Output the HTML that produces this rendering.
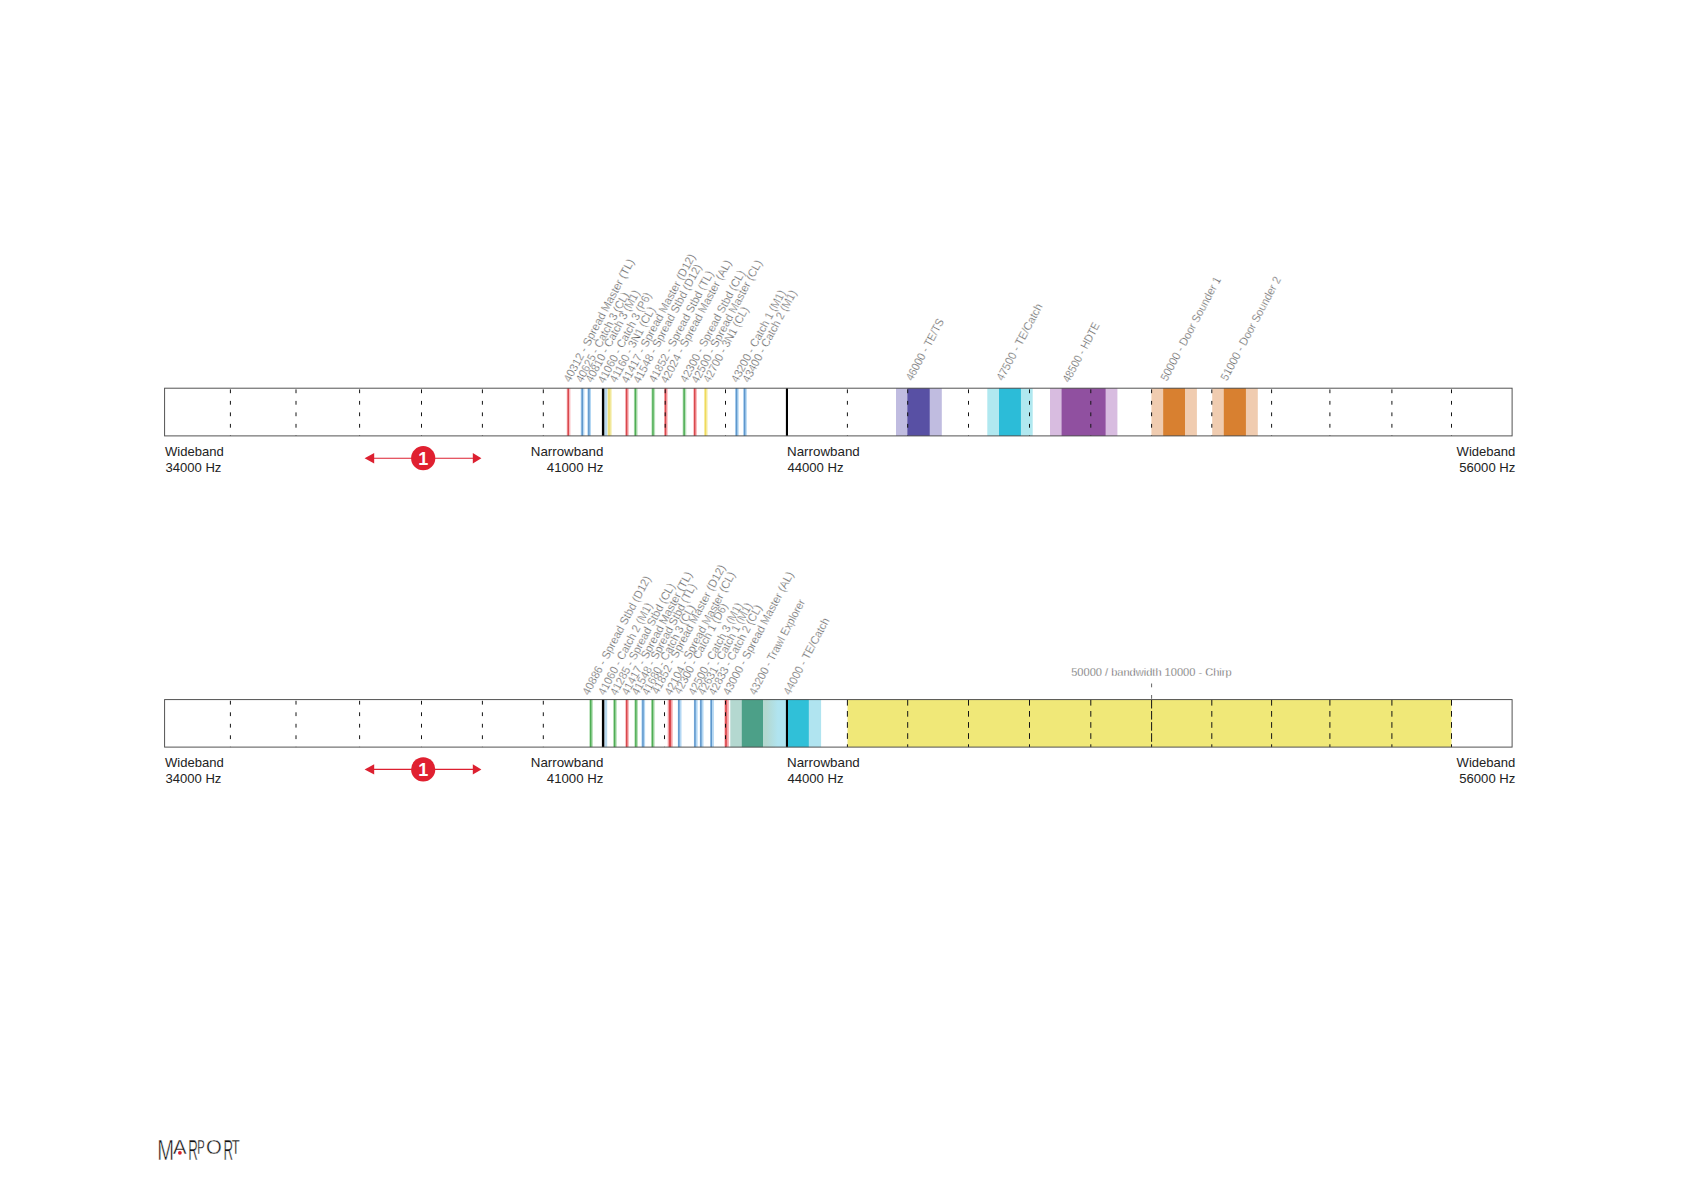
<!DOCTYPE html><html><head><meta charset="utf-8"><title>Frequency plan</title>
<style>html,body{margin:0;padding:0;background:#fff}svg{display:block}text{font-family:"Liberation Sans",sans-serif}</style></head><body>
<svg width="1683" height="1191" viewBox="0 0 1683 1191">
<rect width="1683" height="1191" fill="#fff"/>
<rect x="566.7" y="388.2" width="3.7" height="47.7" fill="#f9b7bb"/>
<rect x="567.5" y="388.2" width="1.5" height="47.7" fill="#d9484d"/>
<rect x="580.7" y="388.2" width="3.7" height="47.7" fill="#b4d7f3"/>
<rect x="581.5" y="388.2" width="1.5" height="47.7" fill="#5f97cc"/>
<rect x="587.3" y="388.2" width="3.7" height="47.7" fill="#b4d7f3"/>
<rect x="588.1" y="388.2" width="1.5" height="47.7" fill="#5f97cc"/>
<rect x="604.4" y="388.2" width="3.1" height="47.7" fill="#b9d9ee"/>
<rect x="607.6" y="388.2" width="4.1" height="47.7" fill="#f6efb0"/>
<rect x="608.0" y="388.2" width="2.4" height="47.7" fill="#ecdd7c"/>
<rect x="625.1" y="388.2" width="3.7" height="47.7" fill="#f9b7bb"/>
<rect x="625.9" y="388.2" width="1.5" height="47.7" fill="#d9484d"/>
<rect x="633.9" y="388.2" width="3.7" height="47.7" fill="#b9e2ba"/>
<rect x="634.7" y="388.2" width="1.5" height="47.7" fill="#4fad55"/>
<rect x="651.4" y="388.2" width="3.7" height="47.7" fill="#b9e2ba"/>
<rect x="652.2" y="388.2" width="1.5" height="47.7" fill="#4fad55"/>
<rect x="664.0" y="388.2" width="3.7" height="47.7" fill="#f9b7bb"/>
<rect x="664.8" y="388.2" width="1.5" height="47.7" fill="#d9484d"/>
<rect x="682.6" y="388.2" width="3.7" height="47.7" fill="#b9e2ba"/>
<rect x="683.4" y="388.2" width="1.5" height="47.7" fill="#4fad55"/>
<rect x="693.2" y="388.2" width="3.7" height="47.7" fill="#f9b7bb"/>
<rect x="694.0" y="388.2" width="1.5" height="47.7" fill="#d9484d"/>
<rect x="704.0" y="388.2" width="3.7" height="47.7" fill="#f8f1b5"/>
<rect x="704.8" y="388.2" width="1.5" height="47.7" fill="#efd95c"/>
<rect x="735.0" y="388.2" width="3.7" height="47.7" fill="#b4d7f3"/>
<rect x="735.8" y="388.2" width="1.5" height="47.7" fill="#5f97cc"/>
<rect x="743.1" y="388.2" width="3.7" height="47.7" fill="#b4d7f3"/>
<rect x="743.9" y="388.2" width="1.5" height="47.7" fill="#5f97cc"/>
<rect x="896.0" y="388.2" width="45.8" height="47.7" fill="#c0bce0"/>
<rect x="907.4" y="388.2" width="22.3" height="47.7" fill="#5850a4"/>
<rect x="987.3" y="388.2" width="45.4" height="47.7" fill="#b0e8f0"/>
<rect x="999.0" y="388.2" width="21.9" height="47.7" fill="#2cbcd8"/>
<rect x="1050.0" y="388.2" width="67.4" height="47.7" fill="#d8bce0"/>
<rect x="1061.6" y="388.2" width="44.0" height="47.7" fill="#9050a0"/>
<rect x="1151.4" y="388.2" width="45.5" height="47.7" fill="#f0ccb0"/>
<rect x="1163.2" y="388.2" width="21.8" height="47.7" fill="#d88030"/>
<rect x="1212.2" y="388.2" width="45.6" height="47.7" fill="#f0ccb0"/>
<rect x="1223.8" y="388.2" width="22.1" height="47.7" fill="#d88030"/>
<rect x="601.9" y="388.2" width="2.4" height="47.7" fill="#000"/>
<rect x="785.9" y="388.2" width="2.1" height="47.7" fill="#000"/>
<line x1="230.4" y1="388.2" x2="230.4" y2="435.9" stroke="#141414" stroke-width="1.0" stroke-dasharray="3.8 7.7" stroke-dashoffset="-1.2"/>
<line x1="296.0" y1="388.2" x2="296.0" y2="435.9" stroke="#141414" stroke-width="1.0" stroke-dasharray="3.8 7.7" stroke-dashoffset="-1.2"/>
<line x1="359.6" y1="388.2" x2="359.6" y2="435.9" stroke="#141414" stroke-width="1.0" stroke-dasharray="3.8 7.7" stroke-dashoffset="-1.2"/>
<line x1="421.5" y1="388.2" x2="421.5" y2="435.9" stroke="#141414" stroke-width="1.0" stroke-dasharray="3.8 7.7" stroke-dashoffset="-1.2"/>
<line x1="482.4" y1="388.2" x2="482.4" y2="435.9" stroke="#141414" stroke-width="1.0" stroke-dasharray="3.8 7.7" stroke-dashoffset="-1.2"/>
<line x1="543.3" y1="388.2" x2="543.3" y2="435.9" stroke="#141414" stroke-width="1.0" stroke-dasharray="3.8 7.7" stroke-dashoffset="-1.2"/>
<line x1="665.2" y1="388.2" x2="665.2" y2="435.9" stroke="#141414" stroke-width="1.0" stroke-dasharray="3.8 7.7" stroke-dashoffset="-1.2"/>
<line x1="725.5" y1="388.2" x2="725.5" y2="435.9" stroke="#141414" stroke-width="1.0" stroke-dasharray="3.8 7.7" stroke-dashoffset="-1.2"/>
<line x1="847.4" y1="388.2" x2="847.4" y2="435.9" stroke="#141414" stroke-width="1.0" stroke-dasharray="3.8 7.7" stroke-dashoffset="-1.2"/>
<line x1="907.7" y1="388.2" x2="907.7" y2="435.9" stroke="#141414" stroke-width="1.0" stroke-dasharray="3.8 7.7" stroke-dashoffset="-1.2"/>
<line x1="968.5" y1="388.2" x2="968.5" y2="435.9" stroke="#141414" stroke-width="1.0" stroke-dasharray="3.8 7.7" stroke-dashoffset="-1.2"/>
<line x1="1029.5" y1="388.2" x2="1029.5" y2="435.9" stroke="#141414" stroke-width="1.0" stroke-dasharray="3.8 7.7" stroke-dashoffset="-1.2"/>
<line x1="1090.8" y1="388.2" x2="1090.8" y2="435.9" stroke="#141414" stroke-width="1.0" stroke-dasharray="3.8 7.7" stroke-dashoffset="-1.2"/>
<line x1="1151.6" y1="388.2" x2="1151.6" y2="435.9" stroke="#141414" stroke-width="1.0" stroke-dasharray="3.8 7.7" stroke-dashoffset="-1.2"/>
<line x1="1211.8" y1="388.2" x2="1211.8" y2="435.9" stroke="#141414" stroke-width="1.0" stroke-dasharray="3.8 7.7" stroke-dashoffset="-1.2"/>
<line x1="1271.6" y1="388.2" x2="1271.6" y2="435.9" stroke="#141414" stroke-width="1.0" stroke-dasharray="3.8 7.7" stroke-dashoffset="-1.2"/>
<line x1="1329.9" y1="388.2" x2="1329.9" y2="435.9" stroke="#141414" stroke-width="1.0" stroke-dasharray="3.8 7.7" stroke-dashoffset="-1.2"/>
<line x1="1391.9" y1="388.2" x2="1391.9" y2="435.9" stroke="#141414" stroke-width="1.0" stroke-dasharray="3.8 7.7" stroke-dashoffset="-1.2"/>
<line x1="1451.5" y1="388.2" x2="1451.5" y2="435.9" stroke="#141414" stroke-width="1.0" stroke-dasharray="3.8 7.7" stroke-dashoffset="-1.2"/>
<rect x="164.6" y="388.2" width="1347.5" height="47.7" fill="none" stroke="#4a4a4a" stroke-width="0.95"/>
<text x="165.0" y="455.6" font-size="13" fill="#222" text-anchor="start" textLength="58.8" lengthAdjust="spacingAndGlyphs">Wideband</text>
<text x="165.4" y="472.1" font-size="13" fill="#222" text-anchor="start" textLength="56" lengthAdjust="spacingAndGlyphs">34000 Hz</text>
<text x="603.4" y="455.6" font-size="13" fill="#222" text-anchor="end" textLength="72.6" lengthAdjust="spacingAndGlyphs">Narrowband</text>
<text x="603.4" y="472.1" font-size="13" fill="#222" text-anchor="end" textLength="56.6" lengthAdjust="spacingAndGlyphs">41000 Hz</text>
<text x="787.0" y="455.6" font-size="13" fill="#222" text-anchor="start" textLength="72.8" lengthAdjust="spacingAndGlyphs">Narrowband</text>
<text x="787.4" y="472.1" font-size="13" fill="#222" text-anchor="start" textLength="56.2" lengthAdjust="spacingAndGlyphs">44000 Hz</text>
<text x="1515.4" y="455.6" font-size="13" fill="#222" text-anchor="end" textLength="58.8" lengthAdjust="spacingAndGlyphs">Wideband</text>
<text x="1515.4" y="472.1" font-size="13" fill="#222" text-anchor="end" textLength="56.2" lengthAdjust="spacingAndGlyphs">56000 Hz</text>
<line x1="372" y1="458.2" x2="475" y2="458.2" stroke="#dc2030" stroke-width="1.1"/>
<polygon points="364.6,458.2 374.2,453.0 374.2,463.4" fill="#dc2030"/>
<polygon points="481.4,458.2 472.8,453.0 472.8,463.4" fill="#dc2030"/>
<circle cx="423.2" cy="458.2" r="12.1" fill="#e02030"/>
<text x="423.2" y="464.6" font-size="18" font-weight="bold" fill="#fff" text-anchor="middle">1</text>
<rect x="589.2" y="699.6" width="3.7" height="47.5" fill="#b9e2ba"/>
<rect x="590.0" y="699.6" width="1.5" height="47.5" fill="#4fad55"/>
<rect x="604.3" y="699.6" width="2.9" height="47.5" fill="#b9d9ee"/>
<rect x="613.1" y="699.6" width="3.7" height="47.5" fill="#b9e2ba"/>
<rect x="613.9" y="699.6" width="1.5" height="47.5" fill="#4fad55"/>
<rect x="625.2" y="699.6" width="3.7" height="47.5" fill="#f9b7bb"/>
<rect x="626.0" y="699.6" width="1.5" height="47.5" fill="#d9484d"/>
<rect x="634.3" y="699.6" width="3.7" height="47.5" fill="#b9e2ba"/>
<rect x="635.1" y="699.6" width="1.5" height="47.5" fill="#4fad55"/>
<rect x="641.4" y="699.6" width="3.7" height="47.5" fill="#b4d7f3"/>
<rect x="642.2" y="699.6" width="1.5" height="47.5" fill="#5f97cc"/>
<rect x="651.0" y="699.6" width="3.7" height="47.5" fill="#b9e2ba"/>
<rect x="651.8" y="699.6" width="1.5" height="47.5" fill="#4fad55"/>
<rect x="667.6" y="699.6" width="5.2" height="47.5" fill="#f9b7bb"/>
<rect x="668.8" y="699.6" width="2.4" height="47.5" fill="#d9484d"/>
<rect x="677.8" y="699.6" width="3.7" height="47.5" fill="#b4d7f3"/>
<rect x="678.1" y="699.6" width="1.5" height="47.5" fill="#5f97cc"/>
<rect x="693.9" y="699.6" width="3.7" height="47.5" fill="#b4d7f3"/>
<rect x="694.2" y="699.6" width="1.5" height="47.5" fill="#5f97cc"/>
<rect x="699.8" y="699.6" width="3.7" height="47.5" fill="#b4d7f3"/>
<rect x="700.1" y="699.6" width="1.5" height="47.5" fill="#5f97cc"/>
<rect x="710.2" y="699.6" width="3.7" height="47.5" fill="#b4d7f3"/>
<rect x="710.5" y="699.6" width="1.5" height="47.5" fill="#5f97cc"/>
<rect x="724.3" y="699.6" width="4.7" height="47.5" fill="#f9b7bb"/>
<rect x="725.0" y="699.6" width="2.2" height="47.5" fill="#e0575c"/>
<rect x="730.3" y="699.6" width="44.7" height="47.5" fill="#b4d8d0"/>
<rect x="741.8" y="699.6" width="21.2" height="47.5" fill="#4ca088"/>
<defs><linearGradient id="g1" x1="0" x2="1" y1="0" y2="0"><stop offset="0" stop-color="#b4d8d0"/><stop offset="1" stop-color="#b0e4f0"/></linearGradient></defs>
<rect x="766.0" y="699.6" width="12.0" height="47.5" fill="url(#g1)"/>
<rect x="778.0" y="699.6" width="43.1" height="47.5" fill="#b0e4f0"/>
<rect x="787.5" y="699.6" width="21.3" height="47.5" fill="#30c0d8"/>
<rect x="847.5" y="699.6" width="604.0" height="47.5" fill="#f0e878"/>
<rect x="601.9" y="699.6" width="2.4" height="47.5" fill="#000"/>
<rect x="785.9" y="699.6" width="2.1" height="47.5" fill="#000"/>
<line x1="230.4" y1="699.6" x2="230.4" y2="747.1" stroke="#141414" stroke-width="1.0" stroke-dasharray="3.8 7.7" stroke-dashoffset="-1.2"/>
<line x1="296.0" y1="699.6" x2="296.0" y2="747.1" stroke="#141414" stroke-width="1.0" stroke-dasharray="3.8 7.7" stroke-dashoffset="-1.2"/>
<line x1="359.6" y1="699.6" x2="359.6" y2="747.1" stroke="#141414" stroke-width="1.0" stroke-dasharray="3.8 7.7" stroke-dashoffset="-1.2"/>
<line x1="421.5" y1="699.6" x2="421.5" y2="747.1" stroke="#141414" stroke-width="1.0" stroke-dasharray="3.8 7.7" stroke-dashoffset="-1.2"/>
<line x1="482.4" y1="699.6" x2="482.4" y2="747.1" stroke="#141414" stroke-width="1.0" stroke-dasharray="3.8 7.7" stroke-dashoffset="-1.2"/>
<line x1="543.3" y1="699.6" x2="543.3" y2="747.1" stroke="#141414" stroke-width="1.0" stroke-dasharray="3.8 7.7" stroke-dashoffset="-1.2"/>
<line x1="664.5" y1="699.6" x2="664.5" y2="747.1" stroke="#141414" stroke-width="1.0" stroke-dasharray="3.8 7.7" stroke-dashoffset="-1.2"/>
<line x1="725.5" y1="699.6" x2="725.5" y2="747.1" stroke="#141414" stroke-width="1.0" stroke-dasharray="3.8 7.7" stroke-dashoffset="-1.2"/>
<line x1="847.4" y1="699.6" x2="847.4" y2="747.1" stroke="#141414" stroke-width="1.0" stroke-dasharray="5.7 5.4" stroke-dashoffset="-0.3"/>
<line x1="907.7" y1="699.6" x2="907.7" y2="747.1" stroke="#141414" stroke-width="1.0" stroke-dasharray="5.7 5.4" stroke-dashoffset="-0.3"/>
<line x1="968.5" y1="699.6" x2="968.5" y2="747.1" stroke="#141414" stroke-width="1.0" stroke-dasharray="5.7 5.4" stroke-dashoffset="-0.3"/>
<line x1="1029.5" y1="699.6" x2="1029.5" y2="747.1" stroke="#141414" stroke-width="1.0" stroke-dasharray="5.7 5.4" stroke-dashoffset="-0.3"/>
<line x1="1090.8" y1="699.6" x2="1090.8" y2="747.1" stroke="#141414" stroke-width="1.0" stroke-dasharray="5.7 5.4" stroke-dashoffset="-0.3"/>
<line x1="1151.6" y1="699.6" x2="1151.6" y2="747.1" stroke="#141414" stroke-width="1.0" stroke-dasharray="8.6 2.5" stroke-dashoffset="-0.3"/>
<line x1="1211.8" y1="699.6" x2="1211.8" y2="747.1" stroke="#141414" stroke-width="1.0" stroke-dasharray="5.7 5.4" stroke-dashoffset="-0.3"/>
<line x1="1271.6" y1="699.6" x2="1271.6" y2="747.1" stroke="#141414" stroke-width="1.0" stroke-dasharray="5.7 5.4" stroke-dashoffset="-0.3"/>
<line x1="1329.9" y1="699.6" x2="1329.9" y2="747.1" stroke="#141414" stroke-width="1.0" stroke-dasharray="5.7 5.4" stroke-dashoffset="-0.3"/>
<line x1="1391.9" y1="699.6" x2="1391.9" y2="747.1" stroke="#141414" stroke-width="1.0" stroke-dasharray="5.7 5.4" stroke-dashoffset="-0.3"/>
<line x1="1451.5" y1="699.6" x2="1451.5" y2="747.1" stroke="#141414" stroke-width="1.0" stroke-dasharray="5.7 5.4" stroke-dashoffset="-0.3"/>
<rect x="164.6" y="699.6" width="1347.5" height="47.5" fill="none" stroke="#4a4a4a" stroke-width="0.95"/>
<text x="165.0" y="766.8" font-size="13" fill="#222" text-anchor="start" textLength="58.8" lengthAdjust="spacingAndGlyphs">Wideband</text>
<text x="165.4" y="783.3" font-size="13" fill="#222" text-anchor="start" textLength="56" lengthAdjust="spacingAndGlyphs">34000 Hz</text>
<text x="603.4" y="766.8" font-size="13" fill="#222" text-anchor="end" textLength="72.6" lengthAdjust="spacingAndGlyphs">Narrowband</text>
<text x="603.4" y="783.3" font-size="13" fill="#222" text-anchor="end" textLength="56.6" lengthAdjust="spacingAndGlyphs">41000 Hz</text>
<text x="787.0" y="766.8" font-size="13" fill="#222" text-anchor="start" textLength="72.8" lengthAdjust="spacingAndGlyphs">Narrowband</text>
<text x="787.4" y="783.3" font-size="13" fill="#222" text-anchor="start" textLength="56.2" lengthAdjust="spacingAndGlyphs">44000 Hz</text>
<text x="1515.4" y="766.8" font-size="13" fill="#222" text-anchor="end" textLength="58.8" lengthAdjust="spacingAndGlyphs">Wideband</text>
<text x="1515.4" y="783.3" font-size="13" fill="#222" text-anchor="end" textLength="56.2" lengthAdjust="spacingAndGlyphs">56000 Hz</text>
<line x1="372" y1="769.4" x2="475" y2="769.4" stroke="#dc2030" stroke-width="1.1"/>
<polygon points="364.6,769.4 374.2,764.2 374.2,774.6" fill="#dc2030"/>
<polygon points="481.4,769.4 472.8,764.2 472.8,774.6" fill="#dc2030"/>
<circle cx="423.2" cy="769.4" r="12.1" fill="#e02030"/>
<text x="423.2" y="775.8" font-size="18" font-weight="bold" fill="#fff" text-anchor="middle">1</text>
<text transform="translate(569.9,383.1) rotate(-62)" font-size="11.5" fill="#424242" stroke="#fff" stroke-width="0.34" textLength="137.8" lengthAdjust="spacingAndGlyphs" style='font-family:"Liberation Sans",sans-serif'>40312 - Spread Master (TL)</text>
<text transform="translate(582.2,383.2) rotate(-62)" font-size="11.5" fill="#424242" stroke="#fff" stroke-width="0.34" textLength="100.2" lengthAdjust="spacingAndGlyphs" style='font-family:"Liberation Sans",sans-serif'>40625 - Catch 3 (CL)</text>
<text transform="translate(591.9,383.2) rotate(-62)" font-size="11.5" fill="#424242" stroke="#fff" stroke-width="0.34" textLength="102.6" lengthAdjust="spacingAndGlyphs" style='font-family:"Liberation Sans",sans-serif'>40810 - Catch 3 (M1)</text>
<text transform="translate(604.3,384.1) rotate(-62)" font-size="11.5" fill="#424242" stroke="#fff" stroke-width="0.34" textLength="101.0" lengthAdjust="spacingAndGlyphs" style='font-family:"Liberation Sans",sans-serif'>41060 - Catch 3 (P6)</text>
<text transform="translate(616.1,383.2) rotate(-62)" font-size="11.5" fill="#424242" stroke="#fff" stroke-width="0.34" textLength="83.7" lengthAdjust="spacingAndGlyphs" style='font-family:"Liberation Sans",sans-serif'>41160 - 3N1 (CL)</text>
<text transform="translate(627.8,384.1) rotate(-62)" font-size="11.5" fill="#424242" stroke="#fff" stroke-width="0.34" textLength="144.6" lengthAdjust="spacingAndGlyphs" style='font-family:"Liberation Sans",sans-serif'>41417 - Spread Master (D12)</text>
<text transform="translate(639.6,384.1) rotate(-62)" font-size="11.5" fill="#424242" stroke="#fff" stroke-width="0.34" textLength="133.0" lengthAdjust="spacingAndGlyphs" style='font-family:"Liberation Sans",sans-serif'>41548 - Spread Stbd (D12)</text>
<text transform="translate(655.3,383.2) rotate(-62)" font-size="11.5" fill="#424242" stroke="#fff" stroke-width="0.34" textLength="124.5" lengthAdjust="spacingAndGlyphs" style='font-family:"Liberation Sans",sans-serif'>41852 - Spread Stbd (TL)</text>
<text transform="translate(667.1,384.1) rotate(-62)" font-size="11.5" fill="#424242" stroke="#fff" stroke-width="0.34" textLength="137.8" lengthAdjust="spacingAndGlyphs" style='font-family:"Liberation Sans",sans-serif'>42024 - Spread Master (AL)</text>
<text transform="translate(686.6,383.2) rotate(-62)" font-size="11.5" fill="#424242" stroke="#fff" stroke-width="0.34" textLength="125.0" lengthAdjust="spacingAndGlyphs" style='font-family:"Liberation Sans",sans-serif'>42300 - Spread Stbd (CL)</text>
<text transform="translate(697.8,384.1) rotate(-62)" font-size="11.5" fill="#424242" stroke="#fff" stroke-width="0.34" textLength="137.8" lengthAdjust="spacingAndGlyphs" style='font-family:"Liberation Sans",sans-serif'>42500 - Spread Master (CL)</text>
<text transform="translate(709.6,383.2) rotate(-62)" font-size="11.5" fill="#424242" stroke="#fff" stroke-width="0.34" textLength="83.7" lengthAdjust="spacingAndGlyphs" style='font-family:"Liberation Sans",sans-serif'>42700 - 3N1 (CL)</text>
<text transform="translate(737.6,383.2) rotate(-62)" font-size="11.5" fill="#424242" stroke="#fff" stroke-width="0.34" textLength="102.6" lengthAdjust="spacingAndGlyphs" style='font-family:"Liberation Sans",sans-serif'>43200 - Catch 1 (M1)</text>
<text transform="translate(748.8,383.2) rotate(-62)" font-size="11.5" fill="#424242" stroke="#fff" stroke-width="0.34" textLength="102.6" lengthAdjust="spacingAndGlyphs" style='font-family:"Liberation Sans",sans-serif'>43400 - Catch 2 (M1)</text>
<text transform="translate(912.3,381.6) rotate(-62)" font-size="11.5" fill="#424242" stroke="#fff" stroke-width="0.34" textLength="68.4" lengthAdjust="spacingAndGlyphs" style='font-family:"Liberation Sans",sans-serif'>46000 - TE/TS</text>
<text transform="translate(1002.8,381.6) rotate(-62)" font-size="11.5" fill="#424242" stroke="#fff" stroke-width="0.34" textLength="85.4" lengthAdjust="spacingAndGlyphs" style='font-family:"Liberation Sans",sans-serif'>47500 - TE/Catch</text>
<text transform="translate(1069.1,383.3) rotate(-62)" font-size="11.5" fill="#424242" stroke="#fff" stroke-width="0.34" textLength="66.0" lengthAdjust="spacingAndGlyphs" style='font-family:"Liberation Sans",sans-serif'>48500 - HDTE</text>
<text transform="translate(1166.9,381.8) rotate(-62)" font-size="11.5" fill="#424242" stroke="#fff" stroke-width="0.34" textLength="116.0" lengthAdjust="spacingAndGlyphs" style='font-family:"Liberation Sans",sans-serif'>50000 - Door Sounder 1</text>
<text transform="translate(1227.0,381.4) rotate(-62)" font-size="11.5" fill="#424242" stroke="#fff" stroke-width="0.34" textLength="115.6" lengthAdjust="spacingAndGlyphs" style='font-family:"Liberation Sans",sans-serif'>51000 - Door Sounder 2</text>
<text transform="translate(588.8,695.9) rotate(-62)" font-size="11.5" fill="#424242" stroke="#fff" stroke-width="0.34" textLength="133.0" lengthAdjust="spacingAndGlyphs" style='font-family:"Liberation Sans",sans-serif'>40886 - Spread Stbd (D12)</text>
<text transform="translate(604.6,695.9) rotate(-62)" font-size="11.5" fill="#424242" stroke="#fff" stroke-width="0.34" textLength="102.6" lengthAdjust="spacingAndGlyphs" style='font-family:"Liberation Sans",sans-serif'>41060 - Catch 2 (M1)</text>
<text transform="translate(616.5,696.2) rotate(-62)" font-size="11.5" fill="#424242" stroke="#fff" stroke-width="0.34" textLength="125.0" lengthAdjust="spacingAndGlyphs" style='font-family:"Liberation Sans",sans-serif'>41285 - Spread Stbd (CL)</text>
<text transform="translate(627.9,695.9) rotate(-62)" font-size="11.5" fill="#424242" stroke="#fff" stroke-width="0.34" textLength="137.8" lengthAdjust="spacingAndGlyphs" style='font-family:"Liberation Sans",sans-serif'>41417 - Spread Master (TL)</text>
<text transform="translate(638.1,695.9) rotate(-62)" font-size="11.5" fill="#424242" stroke="#fff" stroke-width="0.34" textLength="124.5" lengthAdjust="spacingAndGlyphs" style='font-family:"Liberation Sans",sans-serif'>41548 - Spread Stbd (TL)</text>
<text transform="translate(648.3,695.9) rotate(-62)" font-size="11.5" fill="#424242" stroke="#fff" stroke-width="0.34" textLength="100.2" lengthAdjust="spacingAndGlyphs" style='font-family:"Liberation Sans",sans-serif'>41680 - Catch 3 (CL)</text>
<text transform="translate(657.9,694.9) rotate(-62)" font-size="11.5" fill="#424242" stroke="#fff" stroke-width="0.34" textLength="144.6" lengthAdjust="spacingAndGlyphs" style='font-family:"Liberation Sans",sans-serif'>41852 - Spread Master (D12)</text>
<text transform="translate(670.9,695.9) rotate(-62)" font-size="11.5" fill="#424242" stroke="#fff" stroke-width="0.34" textLength="137.8" lengthAdjust="spacingAndGlyphs" style='font-family:"Liberation Sans",sans-serif'>42104 - Spread Master (CL)</text>
<text transform="translate(680.5,694.9) rotate(-62)" font-size="11.5" fill="#424242" stroke="#fff" stroke-width="0.34" textLength="101.0" lengthAdjust="spacingAndGlyphs" style='font-family:"Liberation Sans",sans-serif'>42300 - Catch 1 (D6)</text>
<text transform="translate(694.7,695.9) rotate(-62)" font-size="11.5" fill="#424242" stroke="#fff" stroke-width="0.34" textLength="102.6" lengthAdjust="spacingAndGlyphs" style='font-family:"Liberation Sans",sans-serif'>42500 - Catch 3 (M1)</text>
<text transform="translate(704.3,695.9) rotate(-62)" font-size="11.5" fill="#424242" stroke="#fff" stroke-width="0.34" textLength="102.6" lengthAdjust="spacingAndGlyphs" style='font-family:"Liberation Sans",sans-serif'>42631 - Catch 1 (M1)</text>
<text transform="translate(715.1,695.9) rotate(-62)" font-size="11.5" fill="#424242" stroke="#fff" stroke-width="0.34" textLength="100.2" lengthAdjust="spacingAndGlyphs" style='font-family:"Liberation Sans",sans-serif'>42833 - Catch 2 (CL)</text>
<text transform="translate(729.3,695.9) rotate(-62)" font-size="11.5" fill="#424242" stroke="#fff" stroke-width="0.34" textLength="137.8" lengthAdjust="spacingAndGlyphs" style='font-family:"Liberation Sans",sans-serif'>43000 - Spread Master (AL)</text>
<text transform="translate(755.4,695.7) rotate(-62)" font-size="11.5" fill="#424242" stroke="#fff" stroke-width="0.34" textLength="106.3" lengthAdjust="spacingAndGlyphs" style='font-family:"Liberation Sans",sans-serif'>43200 - Trawl Explorer</text>
<text transform="translate(789.7,695.7) rotate(-62)" font-size="11.5" fill="#424242" stroke="#fff" stroke-width="0.34" textLength="85.4" lengthAdjust="spacingAndGlyphs" style='font-family:"Liberation Sans",sans-serif'>44000 - TE/Catch</text>
<text x="1071.2" y="676.4" font-size="11.5" fill="#424242" stroke="#fff" stroke-width="0.34" textLength="160.4" lengthAdjust="spacingAndGlyphs">50000 / bandwidth 10000 - Chirp</text>
<line x1="1151.6" y1="683.5" x2="1151.6" y2="699.6" stroke="#555" stroke-width="0.9" stroke-dasharray="3.8 7.7"/>
<g id="logo">
<text transform="translate(157.2,1159.6) scale(0.7,1)" font-size="28.9" fill="#111" stroke="#fff" stroke-width="0.55" vector-effect="non-scaling-stroke">M</text>
<text transform="translate(173.0,1153.5) scale(1.0,1)" font-size="20.3" fill="#111" stroke="#fff" stroke-width="0.4" vector-effect="non-scaling-stroke">A</text>
<text transform="translate(188.3,1159.6) scale(0.46,1)" font-size="28.9" fill="#111" stroke="#fff" stroke-width="0.45" vector-effect="non-scaling-stroke">R</text>
<text transform="translate(197.2,1153.5) scale(0.55,1)" font-size="20.3" fill="#111" stroke="#fff" stroke-width="0.25" vector-effect="non-scaling-stroke">P</text>
<text transform="translate(206.0,1153.7) scale(1.0,1)" font-size="20.3" fill="#111" stroke="#fff" stroke-width="0.4" vector-effect="non-scaling-stroke">O</text>
<text transform="translate(223.6,1159.6) scale(0.46,1)" font-size="28.9" fill="#111" stroke="#fff" stroke-width="0.45" vector-effect="non-scaling-stroke">R</text>
<text transform="translate(231.8,1153.5) scale(0.64,1)" font-size="20.3" fill="#111" stroke="#fff" stroke-width="0.25" vector-effect="non-scaling-stroke">T</text>
</g>
<circle cx="179.9" cy="1152.8" r="1.9" fill="#d8202c"/>
</svg></body></html>
